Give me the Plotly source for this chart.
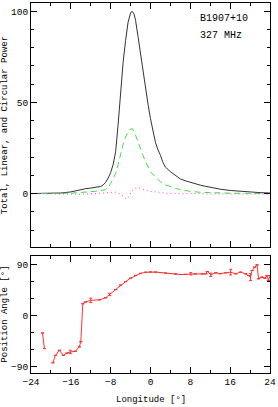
import plotly.graph_objects as go

# ---- Data ----
lon_I = [-24, -20, -18, -16, -14, -13, -12, -11, -10, -9.5, -9, -8.5, -8, -7.5, -7, -6.5, -6,
         -5.5, -5, -4.5, -4, -3.7, -3.3, -3, -2.5, -2, -1.5, -1, -0.5, 0, 0.5, 1, 1.5, 2, 2.5,
         3, 4, 5, 6, 7, 8, 9, 10, 11, 12, 13, 14, 16, 18, 20, 22, 24]
total_I = [0, 0.1, 0.3, 0.9, 2.2, 2.7, 3.0, 3.3, 3.9, 4.7, 6.2, 8.5, 11.5, 16, 23, 38, 56,
           72, 84, 94, 99, 100, 98.5, 95, 86, 76, 66, 57, 49, 41, 34, 28, 24, 21, 17,
           14.5, 12, 9.8, 8, 7, 6.1, 5.3, 4.6, 4.0, 3.4, 2.8, 2.4, 1.7, 1.2, 0.8, 0.5, 0.3]

lon_L = [-24, -20, -16, -14, -12, -10, -9, -8.5, -8, -7.5, -7, -6.5, -6, -5.5, -5, -4.5, -4,
         -3.6, -3, -2.5, -2, -1.5, -1, -0.5, 0, 1, 2, 3, 4, 5, 6, 8, 10, 12, 16, 20, 24]
linear_L = [0, 0, 0.2, 0.6, 1.0, 1.5, 2.2, 3.2, 5.5, 8, 11, 16, 22, 27, 31, 34, 35.4,
            35.5, 32, 28, 24, 21, 17.5, 14.5, 12, 9, 6.5, 4.8, 3.6, 2.8, 2.2, 1.2, 0.7, 0.4, 0.2, 0.1, 0]

lon_V = [-24, -20, -16, -14, -12, -10, -8, -7, -6, -5.5, -5, -4.6, -4.2, -3.8, -3.2, -2.7,
         -2, -1.2, 0, 2, 4, 6, 8, 12, 16, 20, 24]
circ_V = [0, -0.3, -0.5, -0.4, -0.2, 0.2, 0.8, 0.8, -0.3, -1.5, -2.7, -2.8, -1, 1.2, 2.8, 3.3,
          3, 2, 1.2, 0.5, 0, -0.1, 0, -0.2, -0.2, -0.1, -0.3]

lon_PA = [-21.7, -21.3, None, -19.6, -19.1, -18.3, -17.5, -16.8, -16.1, -15.1, -14.3, -14.0,
          -13.6, -13.1, -12.0, -10.2, -9.0, -8.2, -7, -6, -5, -4, -3, -2, -1, 0, 1, 2, 3, 4,
          5, 6, 7, 8.1, 9, 10.4, 11.1, 11.4, 12.1, 13.1, 14.0, 15.1, 16.1, 17.1, 18.1, 19.1,
          19.7, 20.1, 20.4, 20.9, 21.4, 21.7, 22.4, 23.0, 23.4, 23.7, 24.0]
pa = [-30.5, -58, None, -83, -70, -61, -70, -66, -64, -62.7, -55, -46,
      21, 24, 27, 28, 31.6, 37.4, 46, 54, 60, 66, 71, 74.5, 76.5, 77, 76.8, 76, 75, 74.3,
      73.5, 72.5, 72.8, 73.8, 73.5, 73.6, 73.8, 77.8, 72, 75.6, 74, 75.6, 76.7, 73.8, 76.7, 73.8,
      70.8, 67.9, 79.6, 85.5, 89.6, 65, 67.9, 66, 70.8, 62, 70.8]
pa_err = [0, 0, None, 0, 0, 0, 0, 0, 3, 0, 0, 0,
          0, 0, 4, 0, 0, 2, 0, 0, 0, 0, 0, 0, 0, 0, 0, 0, 0, 0,
          0, 0, 0, 2, 0, 0, 0, 0, 3, 0, 0, 0, 5, 0, 0, 0,
          0, 6, 0, 0, 0, 0, 0, 0, 0, 0, 0]

xticks_major = 8
FONT = "Liberation Mono"

fig = go.Figure()
fig.add_trace(go.Scatter(x=lon_I, y=total_I, mode="lines",
                         line=dict(color="#333333", width=1), xaxis="x", yaxis="y"))
fig.add_trace(go.Scatter(x=lon_L, y=linear_L, mode="lines",
                         line=dict(color="#44dd44", width=1, dash="6px,4px"), xaxis="x", yaxis="y"))
fig.add_trace(go.Scatter(x=lon_V, y=circ_V, mode="lines",
                         line=dict(color="#ee44ee", width=1, dash="1px,3px"), xaxis="x", yaxis="y"))
fig.add_trace(go.Scatter(x=lon_PA, y=pa, mode="lines", connectgaps=False,
                         line=dict(color="#ff3333", width=1),
                         error_y=dict(type="data", array=pa_err, color="#ff3333", thickness=1, width=1.5),
                         xaxis="x2", yaxis="y2"))

axis_common = dict(showline=True, linecolor="black", linewidth=1, mirror="ticks",
                   ticks="inside", tickcolor="black", ticklen=6, showgrid=False, zeroline=False,
                   ticklabeloverflow="allow",
                   tickfont=dict(family=FONT, size=9.5, color="black"))

fig.update_layout(
    width=278, height=407,
    margin=dict(l=31, r=6, t=2, b=34),
    paper_bgcolor="white", plot_bgcolor="white",
    showlegend=False,
    xaxis=dict(domain=[0, 1], anchor="y", range=[-24, 24], tick0=0, dtick=xticks_major,
               showticklabels=False,
               minor=dict(dtick=4, ticklen=3, ticks="inside", tickcolor="black"),
               **axis_common),
    yaxis=dict(domain=[0.3396, 1], anchor="x", range=[-29.5, 104.5], tick0=0, dtick=50,
               minor=dict(dtick=10, ticklen=3, ticks="inside", tickcolor="black"),
               **axis_common),
    xaxis2=dict(domain=[0, 1], anchor="y2", range=[-24, 24], tick0=0, dtick=xticks_major,
                minor=dict(dtick=4, ticklen=3, ticks="inside", tickcolor="black"),
                **axis_common),
    yaxis2=dict(domain=[0, 0.3154], anchor="x2", range=[-101, 104.6], tick0=0, dtick=90,
                minor=dict(dtick=30, ticklen=3, ticks="inside", tickcolor="black"),
                **axis_common),
)

ann_font = dict(family=FONT, size=10, color="black")
title_font = dict(family=FONT, size=9, color="black")
fig.add_annotation(text="B1907+10", xref="paper", yref="paper", x=0.697, y=0.957,
                   xanchor="left", yanchor="middle", showarrow=False, font=ann_font)
fig.add_annotation(text="327 MHz", xref="paper", yref="paper", x=0.697, y=0.911,
                   xanchor="left", yanchor="middle", showarrow=False, font=ann_font)
fig.add_annotation(text="Total, Linear, and Circular Power", xref="paper", yref="paper",
                   x=0, y=(0.3396 + 1) / 2, xshift=-26, textangle=-90,
                   xanchor="center", yanchor="middle", showarrow=False, font=title_font)
fig.add_annotation(text="Position Angle [°]", xref="paper", yref="paper",
                   x=0, y=0.3154 / 2, xshift=-26, textangle=-90,
                   xanchor="center", yanchor="middle", showarrow=False, font=title_font)
fig.add_annotation(text="Longitude [°]", xref="paper", yref="paper",
                   x=0.5, y=0, yshift=-27, xanchor="center", yanchor="middle",
                   showarrow=False, font=title_font)

fig.write_html("out.html", config={"displayModeBar": False},
               post_script="document.body.style.margin='0';document.body.style.overflow='hidden';")
